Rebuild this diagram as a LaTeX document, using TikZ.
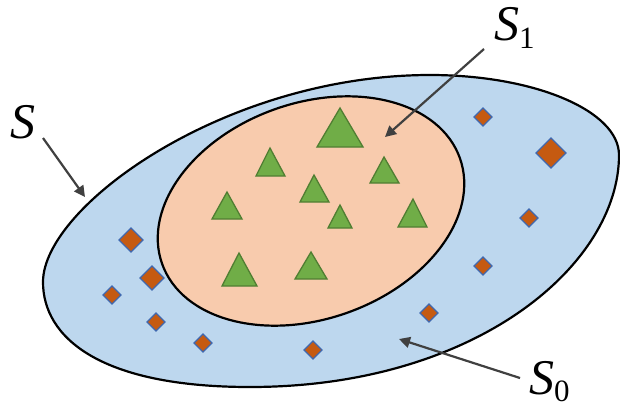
\documentclass[tikz,border=0pt]{standalone}
\usepackage{fontspec}
\setmainfont{Liberation Serif}
\usetikzlibrary{arrows.meta}
\definecolor{bluefill}{HTML}{BDD7EE}
\definecolor{peach}{HTML}{F8CBAD}
\definecolor{trifill}{HTML}{70AD47}
\definecolor{tridraw}{HTML}{507E32}
\definecolor{diafill}{HTML}{C55A11}
\definecolor{diadraw}{HTML}{3F68B0}
\definecolor{arrowgray}{HTML}{404040}
\begin{document}
\begin{tikzpicture}[x=1pt,y=-1pt,
  region/.style={draw=black,line width=2.2pt},
  tri/.style={fill=trifill,draw=tridraw,line width=1.3pt,line join=miter},
  dia/.style={fill=diafill,draw=diadraw,line width=1.2pt},
  pointer/.style={draw=arrowgray,line width=2.2pt,-{Triangle[length=11pt,width=11pt]}},
  lab/.style={inner sep=0pt,anchor=base west,font=\fontsize{50}{50}\selectfont}]
\useasboundingbox (0,0) rectangle (620,410);
% outer set S
\draw[region,fill=bluefill] (43,282)
  .. controls (43,206) and (226,75) .. (430,75)
  .. controls (535,75) and (619,111) .. (619,155)
  .. controls (619,264) and (477,387) .. (250,387)
  .. controls (99,387) and (43,337) .. (43,282) -- cycle;
% inner set S1
\draw[region,fill=peach,shift={(311,211)},rotate=19.5] (0,0) ellipse [x radius=158pt,y radius=108pt];
% triangles
\draw[tri] (340,108) -- (363,147) -- (317,147) -- cycle;
\draw[tri] (270,148) -- (285,176) -- (256,176) -- cycle;
\draw[tri] (384,157) -- (399,183) -- (370,183) -- cycle;
\draw[tri] (314,175) -- (329,202) -- (300,202) -- cycle;
\draw[tri] (227,192) -- (242,219) -- (212,219) -- cycle;
\draw[tri] (340,205) -- (352,228) -- (328,228) -- cycle;
\draw[tri] (413,199) -- (427,227) -- (398,227) -- cycle;
\draw[tri] (239,253) -- (257,286) -- (222,286) -- cycle;
\draw[tri] (311,252) -- (327,279) -- (295,279) -- cycle;
% diamonds
\foreach \cx/\cy/\h in {131/240/12, 152/278/12, 112/295/9, 156/322/9, 203/343/9, 313/350/9,
                        483/117/9, 551/153/15, 529/218/9, 483/266/9, 429/313/9}
  \draw[dia] (\cx,\cy-\h) -- (\cx+\h,\cy) -- (\cx,\cy+\h) -- (\cx-\h,\cy) -- cycle;
% labels
\node[lab] (lS) at (10,138) {\textit{S}};
\node[lab] (lS1) at (494,40) {\textit{S}\raisebox{-8pt}{\fontsize{31}{31}\selectfont 1}};
\node[lab] (lS0) at (529,394) {\textit{S}\raisebox{-7pt}{\fontsize{31}{31}\selectfont 0}};
% pointers
\coordinate (aS) at (43,138);
\coordinate (tS) at (85,197);
\coordinate (aS1) at (484,49);
\coordinate (tS1) at (385,137);
\coordinate (aS0) at (520,378);
\coordinate (tS0) at (399,339);
\draw[pointer] (aS) -- (tS);
\draw[pointer] (aS1) -- (tS1);
\draw[pointer] (aS0) -- (tS0);
\end{tikzpicture}
\end{document}
